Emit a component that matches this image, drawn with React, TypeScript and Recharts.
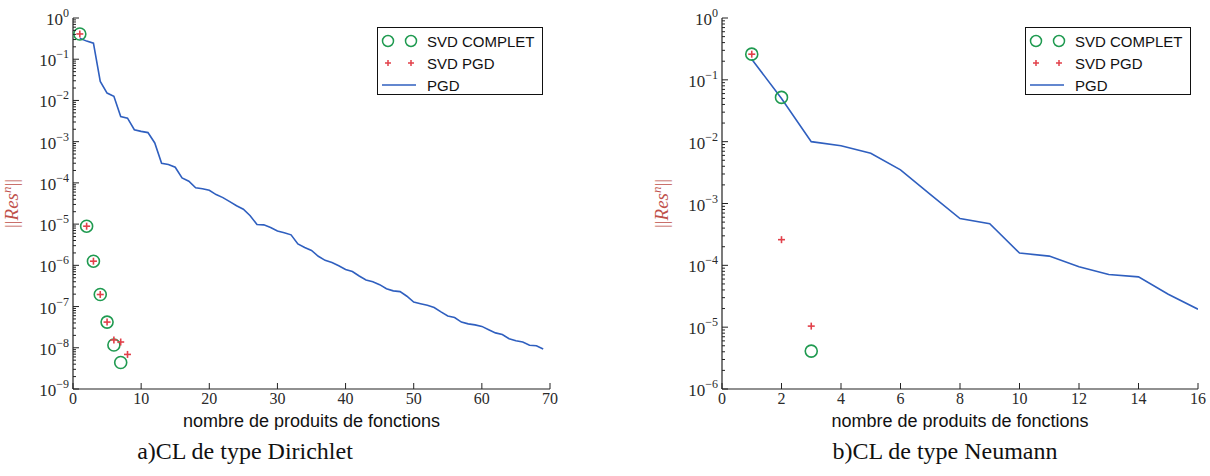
import { ComposedChart, Legend, Line, Scatter, XAxis, YAxis } from "recharts"

// a) CL de type Dirichlet : residu PGD pour n = 1..69
const dirPgd = [
  0.324, 0.275, 0.245, 0.0288, 0.0151, 0.0126, 0.00407, 0.00372, 0.00195, 0.00178,
  0.00166, 9.3e-4, 3.0e-4, 2.8e-4, 2.4e-4, 1.32e-4, 1.1e-4, 7.6e-5, 7.2e-5, 6.6e-5,
  5.2e-5, 4.4e-5, 3.5e-5, 2.8e-5, 2.3e-5, 1.6e-5, 9.8e-6, 9.6e-6, 8.3e-6, 6.8e-6,
  6.2e-6, 5.5e-6, 3.3e-6, 2.7e-6, 2.3e-6, 1.66e-6, 1.32e-6, 1.17e-6, 9.8e-7, 7.9e-7,
  7.1e-7, 5.5e-7, 4.4e-7, 4.0e-7, 3.4e-7, 2.7e-7, 2.4e-7, 2.3e-7, 1.78e-7, 1.29e-7,
  1.17e-7, 1.07e-7, 9.5e-8, 7.4e-8, 5.9e-8, 5.4e-8, 4.2e-8, 3.8e-8, 3.6e-8, 3.3e-8,
  2.75e-8, 2.3e-8, 2.1e-8, 1.66e-8, 1.48e-8, 1.38e-8, 1.15e-8, 1.12e-8, 9.3e-9,
]
const dirSvdCompletN = [1, 2, 3, 4, 5, 6, 7]
const dirSvdComplet = [0.41, 8.9e-6, 1.26e-6, 1.96e-7, 4.2e-8, 1.17e-8, 4.4e-9]
const dirSvdPgdN = [1, 2, 3, 4, 5, 6, 7, 8]
const dirSvdPgd = [0.41, 8.9e-6, 1.26e-6, 1.96e-7, 4.2e-8, 1.55e-8, 1.38e-8, 6.9e-9]
const dirXTicks = [0, 10, 20, 30, 40, 50, 60, 70]

// b) CL de type Neumann : residu PGD pour n = 1..16
const neuPgd = [
  0.215, 0.05, 0.01, 0.0086, 0.0065, 0.0035, 0.0014, 5.7e-4, 4.7e-4, 1.58e-4,
  1.41e-4, 9.5e-5, 7.1e-5, 6.5e-5, 3.4e-5, 1.95e-5,
]
const neuSvdCompletN = [1, 2, 3]
const neuSvdComplet = [0.26, 0.052, 4.1e-6]
const neuSvdPgdN = [1, 2, 3]
const neuSvdPgd = [0.26, 2.6e-4, 1.04e-5]
const neuXTicks = [0, 2, 4, 6, 8, 10, 12, 14, 16]

const GREEN = "#1f9a50"
const RED = "#e2404a"
const BLUE = "#2f5fbf"
const SERIF = "'Liberation Serif', 'DejaVu Serif', serif"
const SANS = "'Liberation Sans', Arial, sans-serif"

const toPoints = (xs: number[], ys: number[]) => ys.map((y, i) => ({ x: xs[i], y }))
const indexPoints = (ys: number[]) => ys.map((y, i) => ({ x: i + 1, y }))

// decades + minor ticks 2..9 for a log axis
function logTicks(minExp: number, maxExp: number) {
  const out: number[] = []
  for (let e = minExp; e < maxExp; e++) {
    for (let m = 1; m < 10; m++) out.push(m * Math.pow(10, e))
  }
  out.push(Math.pow(10, maxExp))
  return out
}

const isDecade = (v: number) => {
  const e = Math.log10(v)
  return Math.abs(e - Math.round(e)) < 1e-6
}

function LeftTick(props: any) {
  const { x, y, payload } = props
  const major = isDecade(payload.value)
  const e = Math.round(Math.log10(payload.value))
  return (
    <g>
      <line x1={x} x2={x + (major ? 6 : 3)} y1={y} y2={y} stroke="#222" strokeWidth={1} />
      {major && (
        <text x={x - 4} y={y + 7} textAnchor="end" fontFamily={SERIF} fontSize={17} fill="#2a2a2a">
          10
          <tspan dy={-8} fontSize={12}>
            {e === 0 ? "0" : "\u2212" + Math.abs(e)}
          </tspan>
        </text>
      )}
    </g>
  )
}

function RightTick(props: any) {
  const { x, y, payload } = props
  const major = isDecade(payload.value)
  return <line x1={x} x2={x - (major ? 6 : 3)} y1={y} y2={y} stroke="#222" strokeWidth={1} />
}

function BottomTick(props: any) {
  const { x, y, payload } = props
  return (
    <g>
      <line x1={x} x2={x} y1={y} y2={y - 6} stroke="#222" strokeWidth={1} />
      <text x={x} y={y + 15} textAnchor="middle" fontFamily={SERIF} fontSize={16} fill="#2a2a2a">
        {payload.value}
      </text>
    </g>
  )
}

function TopTick(props: any) {
  const { x, y } = props
  return <line x1={x} x2={x} y1={y} y2={y + 6} stroke="#222" strokeWidth={1} />
}

function YLabel(props: any) {
  const vb = props.viewBox
  const cx = vb.x + 18
  const cy = vb.y + vb.height / 2
  return (
    <text
      x={cx}
      y={cy}
      transform={`rotate(-90, ${cx}, ${cy})`}
      textAnchor="middle"
      fontFamily={SERIF}
      fontSize={19}
      fill="#c0504a"
    >
      ||<tspan fontStyle="italic">Res</tspan>
      <tspan fontStyle="italic" dy={-7} fontSize={13}>n</tspan>
      <tspan dy={7}>||</tspan>
    </text>
  )
}

function XLabel(props: any) {
  const vb = props.viewBox
  return (
    <text x={vb.x + vb.width / 2} y={vb.y + 38} textAnchor="middle" fontFamily={SANS} fontSize={18} fill="#111">
      nombre de produits de fonctions
    </text>
  )
}

const circleShape = (p: any) => (
  <circle cx={p.cx} cy={p.cy} r={6} fill="none" stroke={GREEN} strokeWidth={1.6} />
)
const plusShape = (p: any) => (
  <g stroke={RED} strokeWidth={1.6}>
    <line x1={p.cx - 3.5} x2={p.cx + 3.5} y1={p.cy} y2={p.cy} />
    <line x1={p.cx} x2={p.cx} y1={p.cy - 3.5} y2={p.cy + 3.5} />
  </g>
)

function LegendBox() {
  const rows = [13, 35, 57]
  return (
    <div style={{ width: 166, height: 68, border: "1.3px solid #111", boxSizing: "border-box", background: "#fff" }}>
      <svg width={164} height={66} style={{ display: "block" }}>
        <circle cx={10} cy={rows[0]} r={5.5} fill="none" stroke={GREEN} strokeWidth={1.5} />
        <circle cx={33} cy={rows[0]} r={5.5} fill="none" stroke={GREEN} strokeWidth={1.5} />
        {[10, 33].map((cx) => (
          <g key={cx} stroke={RED} strokeWidth={1.5}>
            <line x1={cx - 3} x2={cx + 3} y1={rows[1]} y2={rows[1]} />
            <line x1={cx} x2={cx} y1={rows[1] - 3} y2={rows[1] + 3} />
          </g>
        ))}
        <line x1={4} x2={38} y1={rows[2]} y2={rows[2]} stroke={BLUE} strokeWidth={1.5} />
        {["SVD COMPLET", "SVD PGD", "PGD"].map((t, i) => (
          <text key={t} x={49} y={rows[i] + 5.5} fontFamily={SANS} fontSize={15} fill="#111">
            {t}
          </text>
        ))}
      </svg>
    </div>
  )
}

type PanelProps = {
  left: number
  yAxisWidth: number
  marginRight: number
  xMax: number
  xTicks: number[]
  minExp: number
  pgd: { x: number; y: number }[]
  svdComplet: { x: number; y: number }[]
  svdPgd: { x: number; y: number }[]
  legendLeft: number
}

function Panel(p: PanelProps) {
  const yTicks = logTicks(p.minExp, 0)
  const yDomain = [Math.pow(10, p.minExp), 1]
  return (
    <div style={{ position: "absolute", left: p.left, top: 0 }}>
      <ComposedChart width={560} height={430} margin={{ top: 18, right: p.marginRight, bottom: 0, left: 0 }}>
        <XAxis
          dataKey="x"
          type="number"
          domain={[0, p.xMax]}
          ticks={p.xTicks}
          interval={0}
          allowDataOverflow
          height={41}
          tickSize={0}
          tickMargin={0}
          tickLine={false}
          tick={(t: any) => <BottomTick {...t} />}
          axisLine={{ stroke: "#222", strokeWidth: 1.2 }}
          label={(l: any) => <XLabel {...l} />}
        />
        <XAxis
          xAxisId="top"
          orientation="top"
          dataKey="x"
          type="number"
          domain={[0, p.xMax]}
          ticks={p.xTicks}
          interval={0}
          allowDataOverflow
          height={0}
          tickSize={0}
          tickMargin={0}
          tickLine={false}
          tick={(t: any) => <TopTick {...t} />}
          axisLine={{ stroke: "#222", strokeWidth: 1.2 }}
        />
        <YAxis
          dataKey="y"
          scale="log"
          domain={yDomain}
          ticks={yTicks}
          interval={0}
          allowDataOverflow
          width={p.yAxisWidth}
          tickSize={0}
          tickMargin={0}
          tickLine={false}
          tick={(t: any) => <LeftTick {...t} />}
          axisLine={{ stroke: "#222", strokeWidth: 1.2 }}
          label={(l: any) => <YLabel {...l} />}
        />
        <YAxis
          yAxisId="right"
          orientation="right"
          dataKey="y"
          scale="log"
          domain={yDomain}
          ticks={yTicks}
          interval={0}
          allowDataOverflow
          width={0}
          tickSize={0}
          tickMargin={0}
          tickLine={false}
          tick={(t: any) => <RightTick {...t} />}
          axisLine={{ stroke: "#222", strokeWidth: 1.2 }}
        />
        <Line
          data={p.pgd}
          dataKey="y"
          name="PGD"
          type="linear"
          stroke={BLUE}
          strokeWidth={1.6}
          dot={false}
          isAnimationActive={false}
        />
        <Scatter data={p.svdComplet} dataKey="y" name="SVD COMPLET" shape={circleShape} isAnimationActive={false} />
        <Scatter data={p.svdPgd} dataKey="y" name="SVD PGD" shape={plusShape} isAnimationActive={false} />
        <Legend
          layout="horizontal"
          verticalAlign="middle"
          align="center"
          content={() => <LegendBox />}
          wrapperStyle={{ top: 27, left: p.legendLeft, width: 166, height: 68 }}
        />
      </ComposedChart>
    </div>
  )
}

export default function App() {
  const caption = { position: "absolute" as const, top: 438, fontFamily: SERIF, fontSize: 24, color: "#111", transform: "translateX(-50%)", whiteSpace: "nowrap" as const }
  return (
    <div style={{ position: "absolute", left: 0, top: 0, width: 1210, height: 476, background: "#fff", overflow: "hidden" }}>
      <Panel
        left={0}
        yAxisWidth={73}
        marginRight={10}
        xMax={70}
        xTicks={dirXTicks}
        minExp={-9}
        pgd={indexPoints(dirPgd)}
        svdComplet={toPoints(dirSvdCompletN, dirSvdComplet)}
        svdPgd={toPoints(dirSvdPgdN, dirSvdPgd)}
        legendLeft={377}
      />
      <Panel
        left={650}
        yAxisWidth={72}
        marginRight={12}
        xMax={16}
        xTicks={neuXTicks}
        minExp={-6}
        pgd={indexPoints(neuPgd)}
        svdComplet={toPoints(neuSvdCompletN, neuSvdComplet)}
        svdPgd={toPoints(neuSvdPgdN, neuSvdPgd)}
        legendLeft={375}
      />
      <div style={{ ...caption, left: 245 }}>a)CL de type Dirichlet</div>
      <div style={{ ...caption, left: 945 }}>b)CL de type Neumann</div>
    </div>
  )
}
